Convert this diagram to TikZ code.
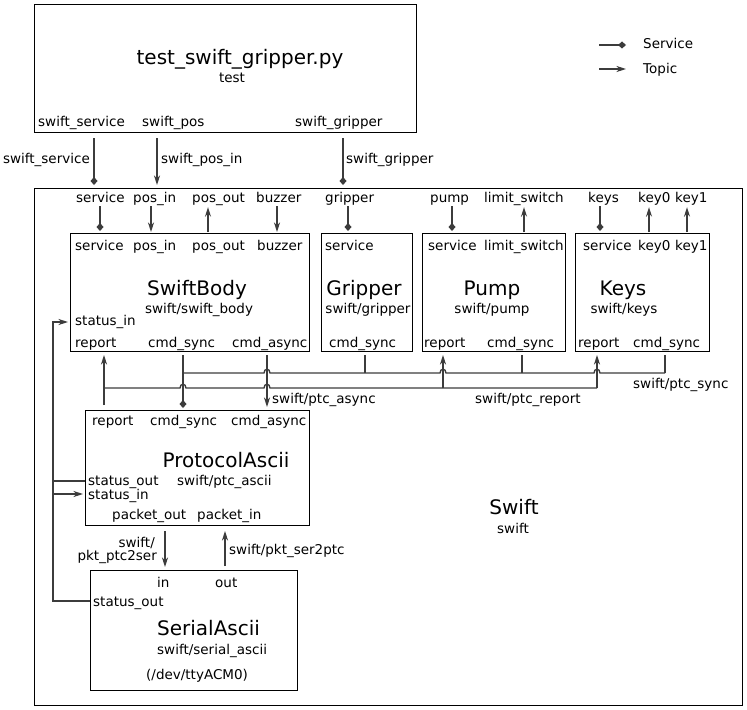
\documentclass[tikz,border=0pt]{standalone}
\usepackage{fontspec}
\setmainfont{DejaVu Sans}
\usetikzlibrary{arrows.meta}
\definecolor{wirec}{RGB}{60,60,60}
\begin{document}
\begin{tikzpicture}[x=1bp,y=-1bp,
  lbl/.style={font=\fontsize{13.5bp}{16bp}\selectfont, inner sep=0pt, text height=10bp, text depth=3bp, anchor=base west},
  lblc/.style={lbl, anchor=base},
  lble/.style={lbl, anchor=base east},
  ttl/.style={font=\fontsize{20bp}{24bp}\selectfont, inner sep=0pt, anchor=base},
  box/.style={draw=black, line width=1bp, inner sep=0pt, anchor=north west, minimum width=#1},
  wire/.style={draw=wirec, line width=1.3bp},
  topic/.style={wire, -{Stealth[length=9.5bp,width=6bp,inset=3bp]}},
  svc/.style={wire, -{Diamond[length=8bp,width=7bp]}}]
\useasboundingbox (0,0) rectangle (747,710);
\fill[white] (0,0) rectangle (747,710);

% ---------- test node
\node[box=382bp, minimum height=128bp] (test) at (34,4) {};
\node[ttl] (testT) at (240,65) {test\_swift\_gripper.py};
\node[lblc] (testS) at (232,83) {test};
\node[lbl] (tSvc) at (38,127) {swift\_service};
\node[lbl] (tPos) at (142,127) {swift\_pos};
\node[lbl] (tGrip) at (295,127) {swift\_gripper};

% ---------- Swift container
\node[box=708bp, minimum height=517bp] (swift) at (34,188) {};
\node[ttl] (swiftT) at (514,514) {Swift};
\node[lblc] (swiftS) at (513,533) {swift};

% connections test -> swift
\draw[svc, shorten <=5bp, shorten >=3bp] (test.south -| 94,0) -- (swift.north -| 94,0);
\draw[topic, shorten <=5bp, shorten >=3bp] (test.south -| 157,0) -- (swift.north -| 157,0);
\draw[svc, shorten <=5bp, shorten >=3bp] (test.south -| 343,0) -- (swift.north -| 343,0);
\node[lble] (lSvc) at (90,163) {swift\_service};
\node[lbl] (lPos) at (161,163) {swift\_pos\_in};
\node[lbl] (lGrip) at (346,163) {swift\_gripper};

% Swift ports (top)
\node[lbl] (pService) at (76,202) {service};
\node[lbl] (pPosIn) at (133,202) {pos\_in};
\node[lbl] (pPosOut) at (192,202) {pos\_out};
\node[lbl] (pBuzzer) at (256,202) {buzzer};
\node[lbl] (pGripper) at (325,202) {gripper};
\node[lbl] (pPump) at (430,202) {pump};
\node[lbl] (pLimit) at (484,202) {limit\_switch};
\node[lbl] (pKeys) at (588,202) {keys};
\node[lbl] (pKey0) at (638,202) {key0};
\node[lbl] (pKey1) at (675,202) {key1};

% ---------- SwiftBody
\node[box=239bp, minimum height=118bp] (sb) at (70,233) {};
\node[lbl] (sbSvc) at (75,250) {service};
\node[lbl] (sbPosIn) at (133,250) {pos\_in};
\node[lbl] (sbPosOut) at (192,250) {pos\_out};
\node[lbl] (sbBuzz) at (257,250) {buzzer};
\node[ttl] (sbT) at (197,295) {SwiftBody};
\node[lblc] (sbS) at (199,313) {swift/swift\_body};
\node[lbl] (sbStat) at (75,325) {status\_in};
\node[lbl] (sbRep) at (75,347) {report};
\node[lbl] (sbSync) at (148,347) {cmd\_sync};
\node[lbl] (sbAsync) at (232,347) {cmd\_async};

% ---------- Gripper
\node[box=91bp, minimum height=118bp] (grip) at (321,233) {};
\node[lbl] (grSvc) at (325,250) {service};
\node[ttl] (grT) at (364,295) {Gripper};
\node[lblc] (grS) at (368,313) {swift/gripper};
\node[lbl] (grSync) at (329,347) {cmd\_sync};

% ---------- Pump
\node[box=143bp, minimum height=118bp] (pump) at (422,233) {};
\node[lbl] (puSvc) at (428,250) {service};
\node[lbl] (puLim) at (484,250) {limit\_switch};
\node[ttl] (puT) at (492,295) {Pump};
\node[lblc] (puS) at (492,313) {swift/pump};
\node[lbl] (puRep) at (424,347) {report};
\node[lbl] (puSync) at (487,347) {cmd\_sync};

% ---------- Keys
\node[box=134bp, minimum height=118bp] (keys) at (575,233) {};
\node[lbl] (kSvc) at (583,250) {service};
\node[lbl] (kK0) at (638,250) {key0};
\node[lbl] (kK1) at (675,250) {key1};
\node[ttl] (kT) at (623,295) {Keys};
\node[lblc] (kS) at (624,313) {swift/keys};
\node[lbl] (kRep) at (578,347) {report};
\node[lbl] (kSync) at (633,347) {cmd\_sync};

% port connections top
\draw[svc, shorten <=1bp, shorten >=2bp] (pService.south -| 100,0) -- (sb.north -| 100,0);
\draw[topic, shorten <=1bp, shorten >=1bp] (pPosIn.south -| 151,0) -- (sb.north -| 151,0);
\draw[topic, shorten <=1bp, shorten >=2bp] (sb.north -| 208,0) -- (pPosOut.south -| 208,0);
\draw[topic, shorten <=1bp, shorten >=1bp] (pBuzzer.south -| 277,0) -- (sb.north -| 277,0);
\draw[svc, shorten <=1bp, shorten >=2bp] (pGripper.south -| 348,0) -- (grip.north -| 348,0);
\draw[svc, shorten <=1bp, shorten >=2bp] (pPump.south -| 452,0) -- (pump.north -| 452,0);
\draw[topic, shorten <=1bp, shorten >=2bp] (pump.north -| 524,0) -- (pLimit.south -| 524,0);
\draw[svc, shorten <=1bp, shorten >=2bp] (pKeys.south -| 600,0) -- (keys.north -| 600,0);
\draw[topic, shorten <=1bp, shorten >=2bp] (keys.north -| 649,0) -- (pKey0.south -| 649,0);
\draw[topic, shorten <=1bp, shorten >=2bp] (keys.north -| 687,0) -- (pKey1.south -| 687,0);

% ---------- ProtocolAscii
\node[box=224bp, minimum height=115bp] (pa) at (85,410) {};
\node[lbl] (paRep) at (92,425) {report};
\node[lbl] (paSync) at (150,425) {cmd\_sync};
\node[lbl] (paAsync) at (231,425) {cmd\_async};
\node[ttl] (paT) at (226,467) {ProtocolAscii};
\node[lbl] (paSO) at (88,485) {status\_out};
\node[lbl] (paS) at (177,485) {swift/ptc\_ascii};
\node[lbl] (paSI) at (88,499) {status\_in};
\node[lbl] (paPO) at (112,519) {packet\_out};
\node[lbl] (paPI) at (197,519) {packet\_in};

% ---------- SerialAscii
\node[box=207bp, minimum height=120bp] (sa) at (90,570) {};
\node[lbl] (saIn) at (157,587) {in};
\node[lbl] (saOut) at (215,587) {out};
\node[lbl] (saSO) at (93,606) {status\_out};
\node[ttl, anchor=base west] (saT) at (157,635) {SerialAscii};
\node[lbl] (saS) at (157,654) {swift/serial\_ascii};
\node[lbl] (saDev) at (146,679) {(/dev/ttyACM0)};

% ---------- buses
\coordinate (repL) at (104,388);
\coordinate (repR) at (597,388);
\coordinate (syncL) at (183,373);
\coordinate (syncR) at (665,373);

% report bus
\draw[topic, shorten <=5bp, shorten >=3bp] (pa.north -| 104,0) -- (sb.south -| 104,0);
\draw[wire] (repL) -- (180,388) .. controls (180,383) and (186,383) .. (186,388)
  -- (264,388) .. controls (264,383) and (270,383) .. (270,388) -- (repR);
\draw[topic, shorten >=3bp] (repL -| 443,0) -- (pump.south -| 443,0);
\draw[topic, shorten >=3bp] (repR) -- (keys.south -| 597,0);
\node[lbl] (lRep) at (475,403) {swift/ptc\_report};

% sync bus
\draw[svc, shorten <=3bp, shorten >=2bp] (sb.south -| 183,0) -- (pa.north -| 183,0);
\draw[wire] (syncL) -- (264,373) .. controls (264,368) and (270,368) .. (270,373)
  -- (440,373) .. controls (440,368) and (446,368) .. (446,373)
  -- (594,373) .. controls (594,368) and (600,368) .. (600,373) -- (syncR);
\draw[wire, shorten <=3bp] (grip.south -| 365,0) -- (syncL -| 365,0);
\draw[wire, shorten <=3bp] (pump.south -| 522,0) -- (syncL -| 522,0);
\draw[wire, shorten <=3bp] (keys.south -| 665,0) -- (syncR);
\node[lbl] (lSync) at (633,388) {swift/ptc\_sync};

% async
\draw[topic, shorten <=3bp, shorten >=3bp] (sb.south -| 267,0) -- (pa.north -| 267,0);
\node[lbl] (lAsync) at (272,403) {swift/ptc\_async};

% packets
\draw[topic, shorten <=5bp, shorten >=3bp] (pa.south -| 165,0) -- (sa.north -| 165,0);
\draw[topic, shorten <=4bp, shorten >=5bp] (sa.north -| 225,0) -- (pa.south -| 225,0);
\node[lble] (lP1a) at (155,547) {swift/};
\node[lble] (lP1b) at (157,560) {pkt\_ptc2ser};
\node[lbl] (lP2) at (229,554) {swift/pkt\_ser2ptc};

% status
\coordinate (stbus) at (53,0);
\draw[topic, shorten >=2bp] (sa.west |- 0,601) -- (stbus |- 0,601) -- (stbus |- 0,322) -- (sb.west |- 0,322);
\draw[wire] (pa.west |- 0,481) -- (stbus |- 0,481);
\draw[topic, shorten >=2bp] (stbus |- 0,494) -- (pa.west |- 0,494);

% ---------- legend
\coordinate (lg1a) at (599,45);
\coordinate (lg1b) at (626,45);
\coordinate (lg2a) at (599,69);
\coordinate (lg2b) at (626,69);
\draw[svc] (lg1a) -- (lg1b);
\draw[topic] (lg2a) -- (lg2b);
\node[lbl] (lgS) at (643,49) {Service};
\node[lbl] (lgT) at (643,74) {Topic};
\end{tikzpicture}
\end{document}
